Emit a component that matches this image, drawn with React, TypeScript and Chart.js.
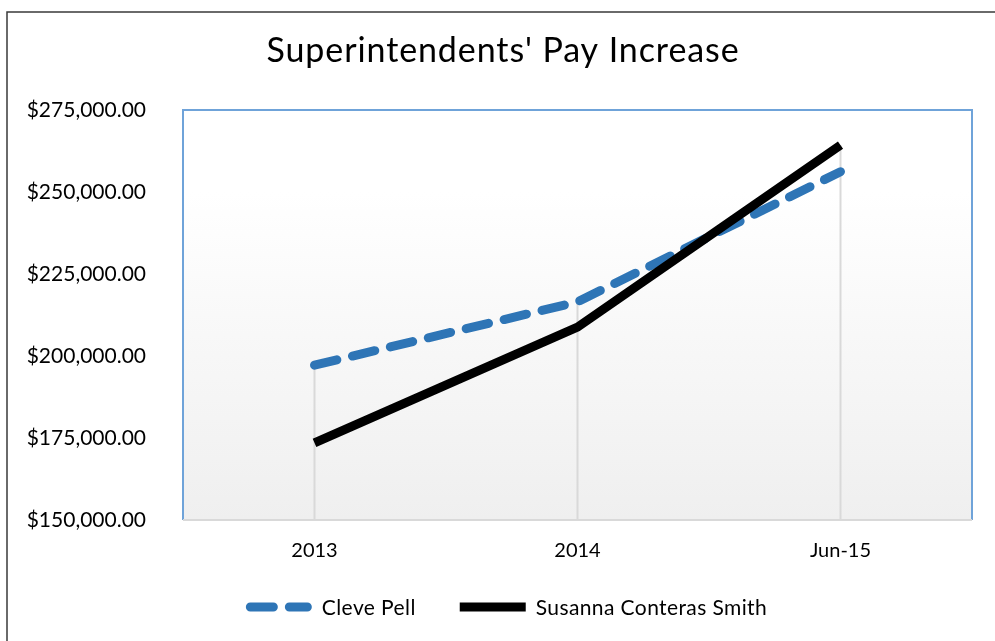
import { useEffect, useRef } from "react";
import { Chart, registerables } from "chart.js";

Chart.register(...registerables);

const chartTitle = "Superintendents' Pay Increase";
const categories = ["2013", "2014", "Jun-15"];
const seriesNames = ["Cleve Pell", "Susanna Conteras Smith"];
const clevePell = [197200, 216500, 256200];
const susannaSmith = [173500, 208800, 264300];
const yMin = 150000;
const yMax = 275000;
const yStep = 25000;

const FONT = "Lato, 'Liberation Sans', sans-serif";
const W = 995;
const H = 641;

function money(v: number): string {
  const s = Math.round(v).toString().replace(/\B(?=(\d{3})+(?!\d))/g, ",");
  return "$" + s + ".00";
}

const backgroundPlugin = {
  id: "bgFrame",
  beforeDraw(chart: any) {
    const { ctx, chartArea: a } = chart;
    ctx.save();
    ctx.fillStyle = "#ffffff";
    ctx.fillRect(0, 0, chart.width, chart.height);
    // outer chart border (left and top visible)
    ctx.strokeStyle = "#3a3a3a";
    ctx.lineWidth = 1.5;
    ctx.beginPath();
    ctx.moveTo(7, chart.height);
    ctx.lineTo(7, 12);
    ctx.lineTo(chart.width, 12);
    ctx.stroke();
    // plot area gradient
    const g = ctx.createLinearGradient(0, a.top, 0, a.bottom);
    g.addColorStop(0, "#ffffff");
    g.addColorStop(0.2, "#ffffff");
    g.addColorStop(1, "#efefef");
    ctx.fillStyle = g;
    ctx.fillRect(a.left, a.top, a.right - a.left, a.bottom - a.top);
    ctx.restore();
  },
  beforeDatasetsDraw(chart: any) {
    const { ctx, chartArea: a } = chart;
    const xs = chart.scales.x;
    const ys = chart.scales.y;
    ctx.save();
    // drop lines from the highest series value down to the axis
    ctx.strokeStyle = "#d9d9d9";
    ctx.lineWidth = 2;
    categories.forEach((_, i) => {
      let top = -Infinity;
      chart.data.datasets.forEach((ds: any) => {
        top = Math.max(top, ds.data[i]);
      });
      const x = xs.getPixelForValue(i);
      ctx.beginPath();
      ctx.moveTo(x, ys.getPixelForValue(top));
      ctx.lineTo(x, a.bottom);
      ctx.stroke();
    });
    // plot border (blue) left, top, right
    ctx.strokeStyle = "#6fa3d9";
    ctx.lineWidth = 2;
    ctx.beginPath();
    ctx.moveTo(a.left, a.bottom);
    ctx.lineTo(a.left, a.top);
    ctx.lineTo(a.right, a.top);
    ctx.lineTo(a.right, a.bottom);
    ctx.stroke();
    // category axis line
    ctx.strokeStyle = "#d9d9d9";
    ctx.beginPath();
    ctx.moveTo(a.left, a.bottom);
    ctx.lineTo(a.right, a.bottom);
    ctx.stroke();
    ctx.restore();
  },
  afterDraw(chart: any) {
    const { ctx } = chart;
    ctx.save();
    // title
    ctx.fillStyle = "#000000";
    ctx.font = `34px ${FONT}`;
    (ctx as any).letterSpacing = "0.9px";
    ctx.textAlign = "center";
    ctx.textBaseline = "alphabetic";
    ctx.fillText(chartTitle, 503, 62);
    // legend
    ctx.font = `21px ${FONT}`;
    (ctx as any).letterSpacing = "0.4px";
    ctx.textAlign = "left";
    ctx.textBaseline = "middle";
    const sample = 66;
    const gapText = 10;
    const gapItem = 44;
    const items = chart.data.datasets.map((ds: any) => ({
      ds,
      tw: ctx.measureText(ds.label).width,
    }));
    const total = items.reduce((s: number, it: any) => s + sample + gapText + it.tw, 0) + gapItem * (items.length - 1);
    let x = 506.5 - total / 2;
    const y = 607;
    items.forEach((it: any) => {
      const ds = it.ds;
      ctx.save();
      ctx.strokeStyle = ds.borderColor;
      ctx.lineWidth = ds.borderWidth;
      ctx.lineCap = ds.borderCapStyle || "butt";
      ctx.setLineDash(ds.borderDash || []);
      const inset = ds.borderCapStyle === "round" ? ds.borderWidth / 2 : 0;
      ctx.beginPath();
      ctx.moveTo(x + inset, y);
      ctx.lineTo(x + sample - inset, y);
      ctx.stroke();
      ctx.restore();
      ctx.fillStyle = "#000000";
      ctx.fillText(ds.label, x + sample + gapText, y + 1);
      x += sample + gapText + it.tw + gapItem;
    });
    ctx.restore();
  },
};

export default function App() {
  const ref = useRef<HTMLCanvasElement | null>(null);

  useEffect(() => {
    if (!ref.current) return;
    const chart = new Chart(ref.current, {
      type: "line",
      data: {
        labels: categories,
        datasets: [
          {
            label: seriesNames[0],
            data: clevePell,
            borderColor: "#2e75b6",
            borderWidth: 9,
            borderDash: [23, 16],
            borderCapStyle: "round",
            borderJoinStyle: "round",
            pointRadius: 0,
            pointHoverRadius: 0,
            tension: 0,
            fill: false,
            order: 1,
          },
          {
            label: seriesNames[1],
            data: susannaSmith,
            borderColor: "#000000",
            borderWidth: 9,
            borderCapStyle: "butt",
            borderJoinStyle: "miter",
            pointRadius: 0,
            pointHoverRadius: 0,
            tension: 0,
            fill: false,
            order: 0,
          },
        ],
      },
      options: {
        responsive: false,
        animation: false,
        events: [],
        layout: { padding: { left: 0, right: 23, top: 110, bottom: 0 } },
        plugins: {
          legend: { display: false },
          title: { display: false },
          tooltip: { enabled: false },
        },
        scales: {
          x: {
            offset: true,
            grid: { display: false, drawTicks: false },
            border: { display: false },
            ticks: { padding: 19, color: "#000000", font: { family: FONT, size: 20 } },
            afterFit: (s: any) => {
              s.height = 121;
            },
          },
          y: {
            min: yMin,
            max: yMax,
            grid: { display: false, drawTicks: false },
            border: { display: false },
            ticks: {
              stepSize: yStep,
              padding: 37,
              color: "#000000",
              font: { family: FONT, size: 21 },
              callback: (v: any) => money(Number(v)),
            },
            afterFit: (s: any) => {
              s.width = 183;
            },
          },
        },
      },
      plugins: [backgroundPlugin],
    } as any);
    return () => chart.destroy();
  }, []);

  return (
    <div style={{ position: "fixed", left: 0, top: 0, width: W, height: H, overflow: "hidden", background: "#fff" }}>
      <canvas ref={ref} width={W} height={H} style={{ width: W, height: H, display: "block" }} />
    </div>
  );
}
